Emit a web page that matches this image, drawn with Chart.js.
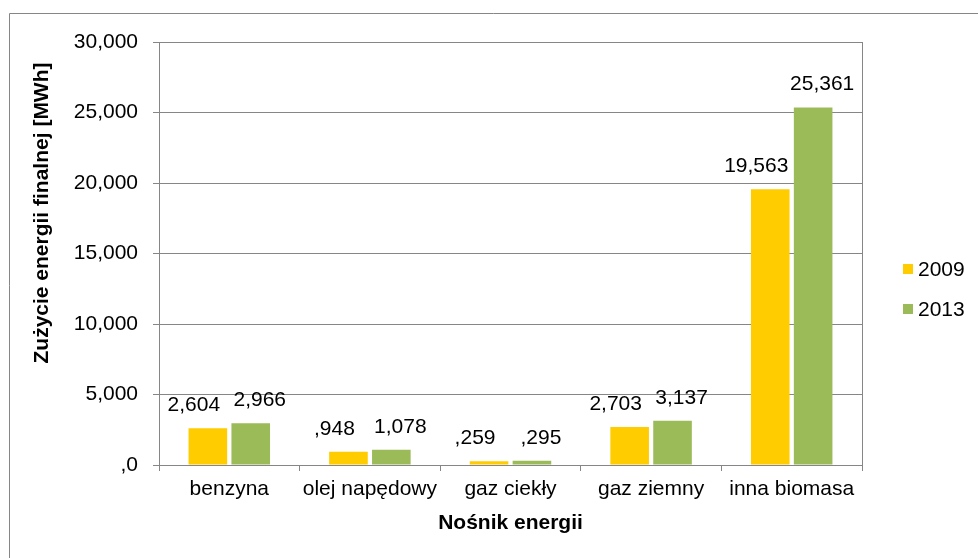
<!DOCTYPE html>
<html>
<head>
<meta charset="utf-8">
<script src="https://cdn.jsdelivr.net/npm/chart.js@4"></script>
<style>
    body { margin: 0; background: #fff; }
    #wrap { width: 978px; height: 558px; }
</style>
</head>
<body>
<div id="wrap"><canvas id="chart" width="978" height="558"></canvas></div>
<script>
// Chart data
const categories = ['benzyna', 'olej napędowy', 'gaz ciekły', 'gaz ziemny', 'inna biomasa'];
const seriesNames = ['2009', '2013'];
const values2009 = [2.604, 0.948, 0.259, 2.703, 19.563];
const values2013 = [2.966, 1.078, 0.295, 3.137, 25.361];
const yTickValues = [0, 5, 10, 15, 20, 25, 30];
const yTickLabels = [',0', '5,000', '10,000', '15,000', '20,000', '25,000', '30,000'];

const FONT = '"Liberation Sans", Arial, sans-serif';
const GRID = '#868686';

// polish-style label: comma decimal, no leading zero
function fmt(v) {
    let s = v.toFixed(3).replace('.', ',');
    if (s.startsWith('0')) s = s.slice(1);
    return s;
}

const decorPlugin = {
    id: 'decor',
    beforeDraw(chart) {
        const ctx = chart.ctx;
        ctx.save();
        ctx.strokeStyle = GRID;
        ctx.lineWidth = 1;
        ctx.beginPath();
        ctx.moveTo(9.5, 558);
        ctx.lineTo(9.5, 13.5);
        ctx.lineTo(978, 13.5);
        ctx.stroke();
        ctx.restore();
    },
    afterDraw(chart) {
        const ctx = chart.ctx;
        const area = chart.chartArea;
        ctx.save();
        // right border of plot area
        ctx.strokeStyle = GRID;
        ctx.lineWidth = 1;
        ctx.beginPath();
        ctx.moveTo(Math.round(area.right) + 0.5, area.top);
        ctx.lineTo(Math.round(area.right) + 0.5, area.bottom);
        ctx.stroke();

        // y axis title
        ctx.fillStyle = '#000';
        ctx.font = 'bold 21px ' + FONT;
        ctx.textAlign = 'center';
        ctx.textBaseline = 'middle';
        ctx.translate(42, 213);
        ctx.rotate(-Math.PI / 2);
        ctx.fillText('Zużycie energii finalnej [MWh]', 0, 0);
        ctx.restore();

        // legend
        ctx.save();
        ctx.font = '21px ' + FONT;
        ctx.textBaseline = 'middle';
        ctx.textAlign = 'left';
        chart.data.datasets.forEach((ds, i) => {
            const cy = 269 + i * 40;
            ctx.fillStyle = ds.backgroundColor;
            ctx.fillRect(903, cy - 5, 10, 10);
            ctx.fillStyle = '#000';
            ctx.fillText(ds.label, 918, cy + 1);
        });
        ctx.restore();
    },
    afterDatasetsDraw(chart) {
        const ctx = chart.ctx;
        ctx.save();
        ctx.font = '21px ' + FONT;
        ctx.fillStyle = '#000';
        ctx.textAlign = 'center';
        ctx.textBaseline = 'alphabetic';
        chart.data.datasets.forEach((ds, i) => {
            const meta = chart.getDatasetMeta(i);
            const dx = i === 0 ? -14 : 9;
            meta.data.forEach((bar, j) => {
                ctx.fillText(fmt(ds.data[j]), bar.x + dx, bar.y - 17);
            });
        });
        ctx.restore();
    }
};

const ctx = document.getElementById('chart').getContext('2d');
new Chart(ctx, {
    type: 'bar',
    data: {
        labels: categories,
        datasets: [
            {
                label: seriesNames[0],
                data: values2009,
                backgroundColor: '#FFCC00',
                categoryPercentage: 0.61,
                barPercentage: 0.9
            },
            {
                label: seriesNames[1],
                data: values2013,
                backgroundColor: '#9BBB59',
                categoryPercentage: 0.61,
                barPercentage: 0.9
            }
        ]
    },
    options: {
        responsive: false,
        animation: false,
        layout: {
            padding: { left: 0, right: 116, top: 42, bottom: 0 }
        },
        plugins: {
            legend: { display: false },
            tooltip: { enabled: false }
        },
        scales: {
            x: {
                grid: {
                    offset: true,
                    drawOnChartArea: false,
                    color: GRID,
                    tickLength: 6
                },
                border: { color: GRID },
                ticks: {
                    color: '#000',
                    padding: 6,
                    font: { family: FONT, size: 21 }
                },
                title: {
                    display: true,
                    text: 'Nośnik energii',
                    color: '#000',
                    font: { family: FONT, size: 21, weight: 'bold' },
                    padding: { top: 0, bottom: 22 }
                },
                afterFit(scale) { scale.height = 93; }
            },
            y: {
                min: 0,
                max: 30,
                grid: {
                    color: GRID,
                    tickLength: 6
                },
                border: { color: GRID },
                afterBuildTicks(scale) {
                    scale.ticks = yTickValues.map(v => ({ value: v }));
                },
                ticks: {
                    color: '#000',
                    padding: 15,
                    font: { family: FONT, size: 21 },
                    callback: function(value) {
                        const idx = yTickValues.indexOf(value);
                        return idx >= 0 ? yTickLabels[idx] : '';
                    }
                },
                afterFit(scale) { scale.width = 159; }
            }
        }
    },
    plugins: [decorPlugin]
});
</script>
</body>
</html>
